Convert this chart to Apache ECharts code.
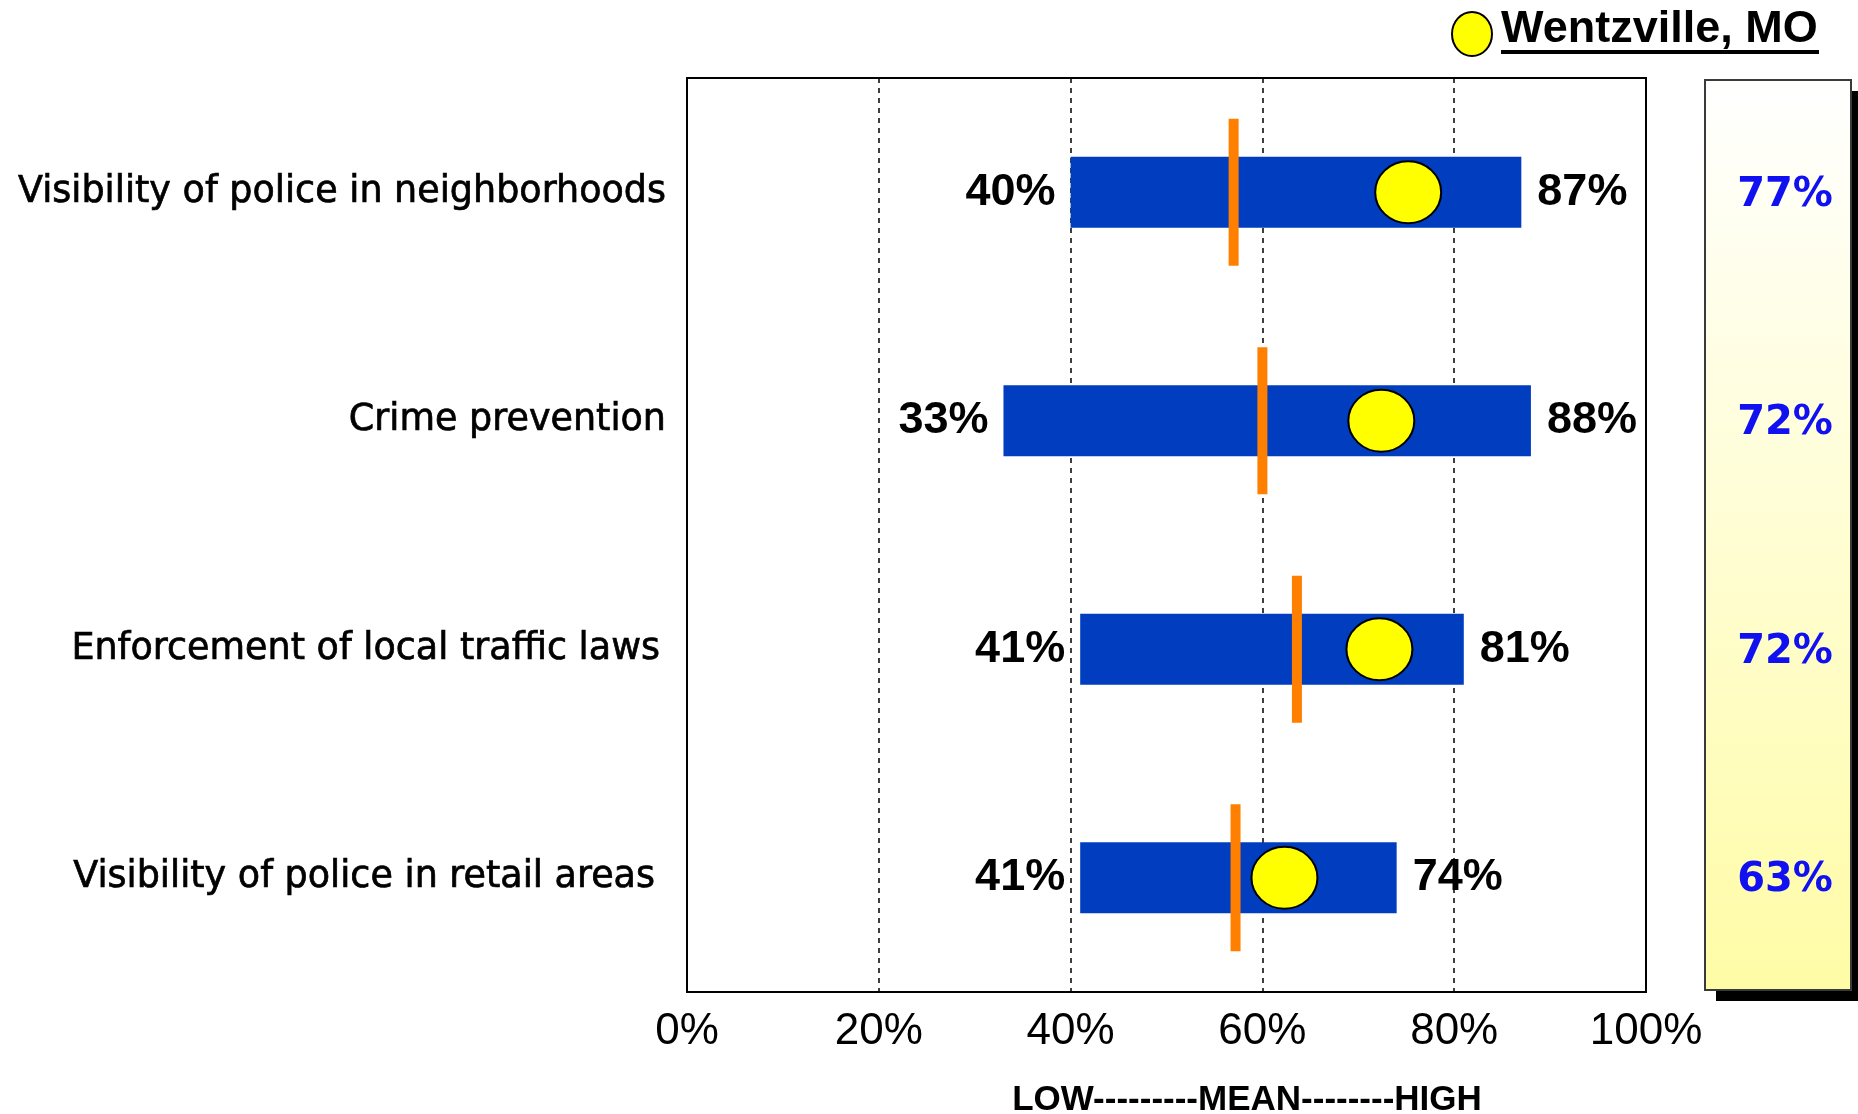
<!DOCTYPE html>
<html>
<head>
<meta charset="utf-8">
<script src="https://cdn.jsdelivr.net/npm/echarts@6/dist/echarts.min.js"></script>
<style>
html,body{margin:0;padding:0;background:#fff;}
#chart{width:1858px;height:1114px;}
</style>
</head>
<body>
<div id="chart"></div>
<script>
// ---- data ----
const categories = [
  'Visibility of police in neighborhoods',
  'Crime prevention',
  'Enforcement of local traffic laws',
  'Visibility of police in retail areas'
];
const lows = [40, 33, 41, 41];
const highs = [87, 88, 81, 74];
const means = [57.0, 60.0, 63.6, 57.2];
const cityPositions = [75.2, 72.4, 72.2, 62.3];
const cityLabels = ['77%', '72%', '72%', '63%'];
const labelPadRight = [0, 0, 6, 11];
const xMin = 0, xMax = 100, xInterval = 20;
const legendName = 'Wentzville, MO';
const axisCaption = 'LOW---------MEAN--------HIGH';

// ---- chart ----
const chart = echarts.init(document.getElementById('chart'), null, {renderer: 'canvas'});
const G = {left: 687, top: 78, width: 959, height: 914};

const option = {
  animation: false,
  backgroundColor: '#ffffff',
  grid: [
    {left: G.left, top: G.top, width: G.width, height: G.height, show: true,
     borderColor: '#000', borderWidth: 2, backgroundColor: '#fff'},
    {left: 1714, top: G.top + 3, width: 142, height: G.height, show: false}
  ],
  xAxis: [
    {gridIndex: 0, type: 'value', min: xMin, max: xMax, interval: xInterval,
     axisLine: {show: false}, axisTick: {show: false},
     splitLine: {show: true, lineStyle: {color: '#000', type: [5, 5], width: 1.5}},
     axisLabel: {formatter: '{value}%', fontFamily: 'Liberation Sans, Arial, sans-serif',
                 fontSize: 44, color: '#000', margin: 18}},
    {gridIndex: 1, type: 'value', min: 0, max: 1, show: false}
  ],
  yAxis: [
    {gridIndex: 0, type: 'category', inverse: true,
     data: categories.map((c, i) => ({value: c, textStyle: {padding: [0, labelPadRight[i], 0, 0]}})),
     axisLine: {show: false}, axisTick: {show: false}, splitLine: {show: false},
     axisLabel: {fontFamily: 'DejaVu Sans, Verdana, sans-serif', fontSize: 36.5, color: '#000', margin: 21,
                 textBorderColor: '#000', textBorderWidth: 0.7}},
    {gridIndex: 1, type: 'category', inverse: true, data: categories, show: false}
  ],
  series: [
    {
      type: 'bar', stack: 'range', xAxisIndex: 0, yAxisIndex: 0,
      barWidth: 71,
      data: lows,
      itemStyle: {color: 'rgba(0,0,0,0)'},
      label: {show: true, position: 'insideRight', distance: 15,
              formatter: p => lows[p.dataIndex] + '%',
              fontFamily: 'Liberation Sans, Arial, sans-serif', fontWeight: 'bold',
              fontSize: 45, color: '#000'},
      silent: true
    },
    {
      type: 'bar', stack: 'range', xAxisIndex: 0, yAxisIndex: 0,
      barWidth: 71,
      data: highs.map((h, i) => h - lows[i]),
      itemStyle: {color: '#003EBF'},
      label: {show: true, position: 'right', distance: 16,
              formatter: p => highs[p.dataIndex] + '%',
              fontFamily: 'Liberation Sans, Arial, sans-serif', fontWeight: 'bold',
              fontSize: 45, color: '#000'},
      silent: true
    },
    {
      type: 'scatter', xAxisIndex: 0, yAxisIndex: 0, z: 5,
      symbol: 'rect', symbolSize: [10, 147],
      data: means.map((m, i) => [m, i]),
      itemStyle: {color: '#FF7F00', opacity: 1},
      silent: true
    },
    {
      type: 'scatter', xAxisIndex: 0, yAxisIndex: 0, z: 6,
      symbol: 'circle', symbolSize: [66, 62],
      data: cityPositions.map((v, i) => [v, i]),
      itemStyle: {color: '#FFFF00', borderColor: '#000', borderWidth: 2, opacity: 1},
      silent: true
    },
    {
      type: 'scatter', xAxisIndex: 1, yAxisIndex: 1, z: 10,
      symbolSize: 1, itemStyle: {color: 'rgba(0,0,0,0)', opacity: 1},
      data: cityLabels.map((v, i) => [0.5, i]),
      label: {show: true, position: 'inside', opacity: 1,
              formatter: p => cityLabels[p.dataIndex],
              fontFamily: 'DejaVu Sans, Verdana, sans-serif', fontWeight: 'bold',
              fontSize: 40, color: '#1010F0'},
      silent: true
    }
  ],
  graphic: [
    // side panel shadow and panel
    {type: 'rect', z: -1, shape: {x: 1716, y: 91, width: 146, height: 910}, style: {fill: '#000'}},
    {type: 'rect', z: -1, shape: {x: 1705, y: 80, width: 146, height: 910},
     style: {fill: new echarts.graphic.LinearGradient(0, 0, 0, 1, [
        {offset: 0, color: '#FFFFFF'}, {offset: 1, color: '#FFFCA6'}]),
       stroke: '#3a3a3a', lineWidth: 2}},
    // legend marker
    {type: 'ellipse', shape: {cx: 1472, cy: 34, rx: 20, ry: 22},
     style: {fill: '#FFFF00', stroke: '#000', lineWidth: 2}},
    {type: 'text', x: 1501, y: 30,
     style: {text: legendName, fontFamily: 'Liberation Sans, Arial, sans-serif', fontWeight: 'bold',
             fontSize: 45, fill: '#000', verticalAlign: 'middle', align: 'left'}},
    {type: 'rect', shape: {x: 1501, y: 50, width: 318, height: 4}, style: {fill: '#000'}},
    // axis caption
    {type: 'text', x: 1247, y: 1100,
     style: {text: axisCaption, fontFamily: 'Liberation Sans, Arial, sans-serif', fontWeight: 'bold',
             fontSize: 35, fill: '#000', verticalAlign: 'middle', align: 'center'}}
  ]
};
chart.setOption(option);
</script>
</body>
</html>
